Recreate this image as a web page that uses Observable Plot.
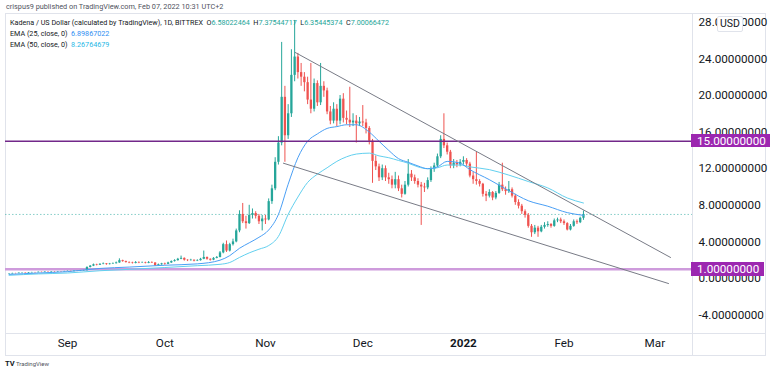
<!DOCTYPE html>
<html><head><meta charset="utf-8">
<script src="https://cdn.jsdelivr.net/npm/d3@7"></script>
<script src="https://cdn.jsdelivr.net/npm/@observablehq/plot@0.6"></script>
<style>
body{margin:0;background:#fff;font-family:Roboto,sans-serif;}
#wrap{position:relative;width:770px;height:374px;overflow:hidden;background:#fff;}
#wrap svg{position:absolute;left:0;top:0;}
.ov{position:absolute;white-space:nowrap;line-height:1;}
.ln{position:absolute;background:#e0e3eb;}
</style></head><body><div id="wrap"></div>
<script>
// ---- daily candles (open = previous close) ----
const monthStarts = ["2021-08-14","2021-09-01","2021-10-01","2021-11-01","2021-12-01","2022-01-01","2022-02-01"];
const firstOpen = 0.48;
const closeAug = [0.50,0.55,0.53,0.58,0.60,0.57,0.62,0.65,0.63,0.68,0.66,0.70,0.68,0.72,0.70,0.74,0.72,0.76];
const highAug  = [0.54,0.58,0.57,0.61,0.63,0.61,0.65,0.68,0.67,0.71,0.70,0.73,0.72,0.75,0.74,0.77,0.76,0.79];
const lowAug   = [0.45,0.49,0.50,0.52,0.56,0.54,0.56,0.60,0.60,0.62,0.63,0.65,0.65,0.67,0.67,0.69,0.69,0.71];
const closeSep = [0.78,0.75,0.80,0.78,0.82,0.85,1.20,1.35,1.50,1.45,1.55,1.60,1.52,1.58,1.62,1.70,1.95,1.85,1.75,1.70,1.65,1.75,1.70,1.72,1.66,1.75,1.70,1.40,1.50,1.60];
const highSep  = [0.82,0.80,0.84,0.83,0.86,0.90,1.28,1.42,1.58,1.56,1.62,1.70,1.64,1.65,1.70,1.80,2.15,2.00,1.90,1.82,1.78,1.85,1.82,1.80,1.78,1.85,1.82,1.72,1.58,1.66];
const lowSep   = [0.74,0.72,0.73,0.75,0.76,0.80,0.83,1.15,1.30,1.38,1.42,1.50,1.45,1.48,1.54,1.58,1.66,1.78,1.68,1.62,1.58,1.60,1.62,1.64,1.60,1.62,1.64,1.32,1.35,1.45];
const closeOct = [1.55,1.70,1.85,1.95,2.10,2.20,2.00,1.95,2.00,1.90,1.95,2.10,2.30,2.10,2.00,2.20,2.30,2.80,3.70,3.00,3.70,4.00,5.20,7.00,6.20,6.00,6.90,7.10,6.80,6.20,6.50];
const highOct  = [1.68,1.78,1.92,2.05,2.20,2.45,2.25,2.05,2.10,2.02,2.05,2.20,3.00,2.35,2.15,2.28,2.40,2.95,3.85,4.10,3.85,4.30,5.40,7.40,8.20,6.80,8.00,7.60,7.30,7.00,6.90];
const lowOct   = [1.45,1.52,1.65,1.80,1.90,2.05,1.90,1.85,1.90,1.82,1.85,1.90,2.05,2.00,1.90,1.95,2.15,2.25,2.70,2.85,2.90,3.55,3.90,5.00,6.00,5.40,5.90,6.50,6.50,5.90,5.20];
const closeNov = [6.4,8.4,9.8,12.7,14.8,19.8,15.6,18.0,22.2,24.2,22.5,22.0,21.4,19.5,18.5,21.3,19.2,21.0,20.5,18.2,17.2,18.5,17.2,19.6,17.5,17.3,17.0,17.2,16.9,17.1];
const highNov  = [6.9,8.7,10.2,13.2,15.5,25.8,21.0,19.0,25.0,28.2,24.6,23.5,22.5,22.0,23.5,21.8,21.6,23.5,21.5,20.8,18.8,19.2,19.0,20.0,20.2,18.3,20.9,18.0,17.8,17.6];
const lowNov   = [5.9,6.3,8.1,9.6,12.4,14.5,12.7,15.2,17.6,21.5,21.8,21.0,20.4,19.0,18.0,18.2,18.8,18.9,19.8,17.9,16.8,16.9,16.6,16.8,17.0,16.8,16.5,16.6,14.8,16.6];
const closeDec = [17.0,16.4,15.0,12.8,12.2,11.0,12.0,11.0,10.8,10.2,10.8,9.8,9.2,10.2,11.4,11.0,10.6,10.2,10.0,9.9,10.7,11.9,12.3,13.3,15.2,14.5,13.8,12.3,12.6,12.4,12.7];
const highDec  = [18.9,17.4,16.6,15.2,13.4,12.5,12.4,12.3,11.5,11.2,11.6,11.2,10.2,10.6,13.0,11.8,11.3,10.9,10.5,10.4,11.0,12.2,12.6,13.6,15.6,18.0,14.8,14.0,13.0,12.9,13.0];
const lowDec   = [16.6,15.8,14.6,10.4,11.8,10.6,10.7,10.6,10.3,9.8,9.8,9.5,8.8,9.1,10.0,10.6,10.3,9.9,5.8,9.4,9.7,10.5,11.6,12.1,13.1,14.2,13.5,12.0,12.0,12.1,12.2];
const closeJan = [12.9,12.5,11.2,10.8,10.6,10.3,9.2,9.0,9.4,8.8,9.3,10.2,9.7,9.5,9.7,9.0,8.3,7.9,7.3,6.9,5.7,5.0,5.5,5.1,5.6,5.8,5.9,5.7,6.3,6.4,6.2];
const highJan  = [13.3,13.1,12.7,11.6,13.8,10.8,10.4,9.5,9.7,9.5,9.5,10.5,12.6,10.0,10.6,9.9,9.2,8.6,8.1,7.5,7.1,5.9,5.8,5.7,5.8,6.1,6.2,6.0,6.5,6.6,6.6];
const lowJan   = [12.4,12.2,11.0,10.3,10.2,10.0,8.9,8.4,8.8,8.5,8.6,9.2,9.5,9.1,9.3,8.8,8.0,7.6,7.0,6.6,5.5,4.5,4.8,4.5,5.0,5.4,5.6,5.5,5.6,6.1,6.0];
const closeFeb = [6.0,5.3,5.7,6.2,6.1,6.58022464,7.00066472];
const highFeb  = [6.4,6.1,5.9,6.4,6.4,6.7,7.37544717];
const lowFeb   = [5.8,5.2,5.2,5.6,5.9,6.0,6.35445374];

// ---- EMA readings ----
const emaDates = ["2021-08-14","2021-08-23","2021-09-01","2021-09-11","2021-09-20","2021-10-01","2021-10-11","2021-10-18","2021-10-21","2021-10-24","2021-10-27","2021-10-30","2021-11-02","2021-11-05","2021-11-08","2021-11-11","2021-11-14","2021-11-17","2021-11-20","2021-11-23","2021-11-26","2021-11-29","2021-12-03","2021-12-06","2021-12-09","2021-12-12","2021-12-15","2021-12-18","2021-12-21","2021-12-24","2021-12-27","2021-12-31","2022-01-03","2022-01-09","2022-01-15","2022-01-21","2022-01-27","2022-02-02","2022-02-07"];
const ema25 = [0.45,0.6,0.75,1.1,1.25,1.45,1.6,2.0,2.5,3.3,3.9,4.5,5.3,7.0,10.3,13.2,15.0,15.8,16.4,16.6,16.8,16.8,16.0,15.0,14.0,13.1,12.7,12.3,12.0,12.2,12.8,12.6,11.9,10.8,9.6,8.5,7.9,7.2,6.9];
const ema50 = [0.35,0.5,0.6,0.85,1.0,1.2,1.4,1.55,1.75,2.3,2.8,3.2,3.6,4.6,7.0,8.9,10.5,11.4,12.1,12.8,13.3,13.6,13.7,13.4,13.2,12.9,12.6,12.2,12.0,12.1,12.4,12.4,12.2,11.9,11.3,10.6,9.9,8.8,8.25];

// ---- drawn trendlines (falling wedge) ----
const upperDates = ["2021-11-10T04:30:00Z","2022-03-05T20:00:00Z"];
const upperVals  = [24.7, 2.3];
const lowerDates = ["2021-11-06T13:00:00Z","2022-03-05T05:00:00Z"];
const lowerVals  = [12.6, -0.55];

// ---- horizontal levels ----
const levels = [15, 1];
const levelLabels = ["15.00000000","1.00000000"];

// ---- axis ticks ----
const yTicks = [-4,0,4,8,12,16,20,24,28];
const monthTickDates = ["2021-09-01","2021-10-01","2021-11-01","2021-12-01","2022-01-01","2022-02-01","2022-03-01"];
const monthLabels = ["Sep","Oct","Nov","Dec","2022","Feb","Mar"];

// ---- build tables ----
const closes=[closeAug,closeSep,closeOct,closeNov,closeDec,closeJan,closeFeb];
const highs=[highAug,highSep,highOct,highNov,highDec,highJan,highFeb];
const lows=[lowAug,lowSep,lowOct,lowNov,lowDec,lowJan,lowFeb];
const candles=[]; let prev=firstOpen;
monthStarts.forEach((s,m)=>{
  const t0=Date.parse(s+"T00:00:00Z");
  closes[m].forEach((c,i)=>{
    candles.push({date:new Date(t0+i*864e5), open:prev, close:c, high:highs[m][i], low:lows[m][i]});
    prev=c;
  });
});
const last=candles[candles.length-1];
const emaRows25=emaDates.map((d,i)=>({date:new Date(d+"T00:00:00Z"),v:ema25[i]}));
const emaRows50=emaDates.map((d,i)=>({date:new Date(d+"T00:00:00Z"),v:ema50[i]}));
const upper=upperDates.map((d,i)=>({date:new Date(d),v:upperVals[i]}));
const lower=lowerDates.map((d,i)=>({date:new Date(d),v:lowerVals[i]}));
const tickDates=monthTickDates.map(d=>new Date(d+"T00:00:00Z"));
const labelOf=new Map(tickDates.map((d,i)=>[+d,monthLabels[i]]));

const GREEN="#26a69a", RED="#ef5350";
const col=d=>d.close>=d.open?GREEN:RED;
const sep1=Date.UTC(2021,8,1);
const xDomain=[new Date(sep1-19.1*864e5), new Date(sep1+192.6*864e5)];

const plot=Plot.plot({
  width:770,height:374,
  marginLeft:5,marginRight:78,marginTop:13,marginBottom:41,
  style:{background:"transparent",fontFamily:"Roboto, sans-serif",color:"#131722",overflow:"visible"},
  x:{type:"utc",domain:xDomain},
  y:{domain:[-6.01,28.96]},
  color:{type:"identity"},
  marks:[
    Plot.axisY(yTicks,{anchor:"right",tickSize:0,tickPadding:6,tickFormat:d=>d.toFixed(8),fontSize:11.7,fill:"#131722",label:null}),
    Plot.axisX(tickDates,{anchor:"bottom",tickSize:0,tickPadding:5,tickFormat:d=>labelOf.get(+d),fontSize:11.7,fill:"#131722",label:null}),
    Plot.ruleY([last.close],{stroke:GREEN,strokeOpacity:0.55,strokeWidth:1,strokeDasharray:"1.5,2"}),
    Plot.ruleY([levels[1]],{stroke:"#ce9bdc",strokeWidth:2.5}),
    Plot.ruleX(candles,{x:"date",y1:"low",y2:"high",stroke:col,strokeWidth:1}),
    Plot.ruleX(candles,{x:"date",y1:"open",y2:"close",stroke:col,strokeWidth:2.3}),
    Plot.line(emaRows50,{x:"date",y:"v",stroke:"#62d0ef",strokeWidth:1,curve:"monotone-x"}),
    Plot.line(emaRows25,{x:"date",y:"v",stroke:"#4a9ff5",strokeWidth:1,curve:"monotone-x"}),
    Plot.ruleY([levels[0]],{stroke:"#72288a",strokeWidth:1.3}),
    Plot.line(upper,{x:"date",y:"v",stroke:"#787b86",strokeWidth:1}),
    Plot.line(lower,{x:"date",y:"v",stroke:"#787b86",strokeWidth:1})
  ]
});
plot.querySelectorAll("text").forEach(t=>{ if(t.textContent==="2022") t.setAttribute("font-weight","bold"); });

const wrap=document.getElementById("wrap");
// frame lines
function line(l,t,w,h){const d=document.createElement("div");d.className="ln";Object.assign(d.style,{left:l+"px",top:t+"px",width:w+"px",height:h+"px"});wrap.appendChild(d);}
line(5,13,760,1); line(5,355,760,1); line(5,13,1,343); line(765,13,1,343);
line(692,13,1,343); line(5,333,760,1);
wrap.appendChild(plot);

function ov(html,l,t,css){const d=document.createElement("div");d.className="ov";d.innerHTML=html;d.style.left=l+"px";d.style.top=t+"px";Object.assign(d.style,css||{});wrap.appendChild(d);return d;}
const y=plot.scale("y");
// level labels
levels.forEach((v,i)=>{
  ov(levelLabels[i],691,y.apply(v)-6.5,{background:"#9c27b0",color:"#fff",fontSize:"11.7px",padding:"0.6px 5px 0.6px 6px",height:"12px",lineHeight:"12px"});
});
// USD badge
ov("USD",717,16,{background:"#fff",border:"1px solid #e0e3eb",borderRadius:"2px",color:"#131722",fontSize:"10.5px",padding:"2px 2px",lineHeight:"10px"});
// header
ov("crispus9 published on TradingView.com, Feb 07, 2022 10:31 UTC+2",6,3,{fontSize:"7.3px",color:"#50535e"});
const T=`<span style="color:${GREEN}">`;
ov(`Kadena / US Dollar (calculated by TradingView), 1D, BITTREX&nbsp; O${T}6.58022464</span>&nbsp; H${T}7.37544717</span>&nbsp; L${T}6.35445374</span>&nbsp; C${T}7.00066472</span>`,10,18.5,{fontSize:"7.2px",color:"#131722"});
ov(`EMA (25, close, 0)&nbsp; <span style="color:#2f8ef2">6.89867022</span>`,10,29.5,{fontSize:"7.2px",color:"#131722"});
ov(`EMA (50, close, 0)&nbsp; <span style="color:#1fb8e6">8.26764679</span>`,10,40.5,{fontSize:"7.2px",color:"#131722"});
ov(`<b style="font-size:7.5px;color:#131722">TV</b> TradingView`,5,360,{fontSize:"6px",color:"#50535e"});
</script></body></html>
